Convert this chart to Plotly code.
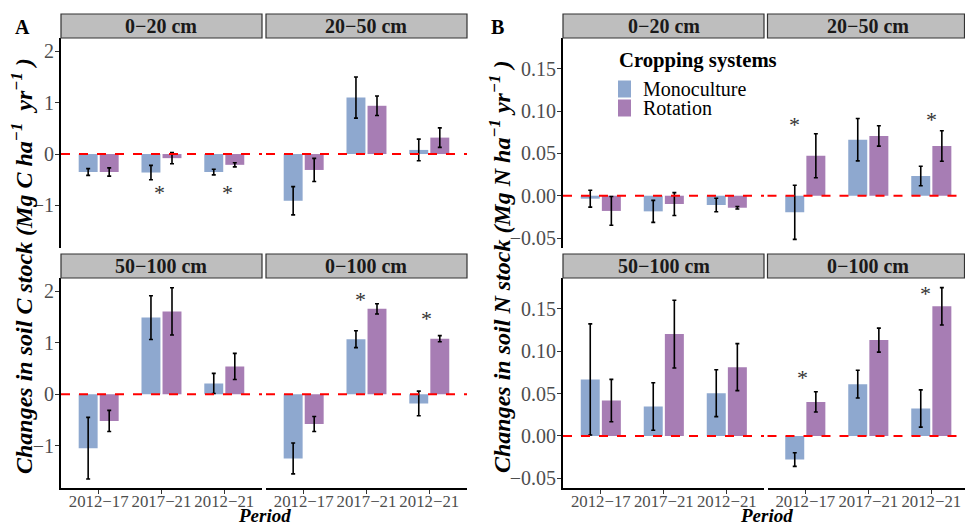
import plotly.graph_objects as go

# ---------------- data ----------------
periods = ["2012−17", "2017−21", "2012−21"]
depths = ["0−20 cm", "20−50 cm", "50−100 cm", "0−100 cm"]
systems = ["Monoculture", "Rotation"]

# Soil C stock changes (Mg C ha-1 yr-1)
c_mono = [[-0.35, -0.36, -0.35], [-0.91, 1.10, 0.08], [-1.05, 1.49, 0.21], [-1.25, 1.07, -0.18]]
c_mono_err = [[0.065, 0.14, 0.055], [0.275, 0.40, 0.21], [0.60, 0.425, 0.195], [0.30, 0.165, 0.24]]
c_rot = [[-0.35, -0.08, -0.21], [-0.31, 0.94, 0.32], [-0.52, 1.61, 0.54], [-0.58, 1.66, 1.08]]
c_rot_err = [[0.08, 0.11, 0.04], [0.225, 0.19, 0.19], [0.205, 0.46, 0.255], [0.145, 0.10, 0.06]]

# Soil N stock changes (Mg N ha-1 yr-1)
n_mono = [[-0.0035, -0.0185, -0.011], [-0.0196, 0.0662, 0.0233], [0.0667, 0.0347, 0.0505], [-0.0279, 0.0611, 0.0324]]
n_mono_err = [[0.010, 0.013, 0.008], [0.032, 0.025, 0.0116], [0.0656, 0.028, 0.0277], [0.008, 0.0164, 0.022]]
n_rot = [[-0.018, -0.0098, -0.0142], [0.0473, 0.0706, 0.0587], [0.0418, 0.1202, 0.0812], [0.0402, 0.1131, 0.153]]
n_rot_err = [[0.017, 0.0135, 0.0015], [0.026, 0.012, 0.018], [0.025, 0.040, 0.0277], [0.012, 0.0142, 0.022]]

# significance markers: (depth index, x position on category scale, y value)
c_stars_depth = [0, 0, 3, 3]
c_stars_x = [1.965, 3.054, 1.897, 2.948]
c_stars_y = [-0.66, -0.66, 1.93, 1.56]
n_stars_depth = [1, 1, 3, 3]
n_stars_x = [0.832, 3.003, 0.95, 2.912]
n_stars_y = [0.0895, 0.0962, 0.0745, 0.174]

# ---------------- style ----------------
W, H = 965, 525
FONT = "Liberation Serif"
BLUE = "#8EA8CF"
PURPLE = "#A77DB4"
TICK_COL = "#4D4D4D"

# pixel layout of panels
col_px = [(61, 262), (266, 467), (563, 764), (767.5, 965)]
row_px = [(38, 248), (278, 488.3)]
strip_px = [(14, 38), (254, 278)]
cat_unit = [62.8, 62.8, 63.0, 63.0]

fig = go.Figure()
layout = dict(
    width=W, height=H, margin=dict(l=0, r=0, t=0, b=0, autoexpand=False),
    plot_bgcolor="white", paper_bgcolor="white",
    barmode="group", bargap=0.33, bargroupgap=0.1,
    font=dict(family=FONT, size=17, color="black"),
    showlegend=False,
)
shapes = []
annotations = []

def xd(px):
    return px / W

def yd(py):
    return 1 - py / H

panels = []  # (panel, depth index, row, col)
for p in range(2):
    for d in range(4):
        panels.append((p, d, d // 2, (d % 2) + 2 * p))

for i, (p, d, r, c) in enumerate(panels):
    idx = i + 1
    xa = "x" if idx == 1 else f"x{idx}"
    ya = "y" if idx == 1 else f"y{idx}"
    mono = c_mono if p == 0 else n_mono
    mono_e = c_mono_err if p == 0 else n_mono_err
    rot = c_rot if p == 0 else n_rot
    rot_e = c_rot_err if p == 0 else n_rot_err
    xs = [1, 2, 3]
    fig.add_trace(go.Bar(
        x=xs, y=mono[d], name=systems[0], marker=dict(color=BLUE, line=dict(width=0)),
        error_y=dict(type="data", array=mono_e[d], color="black", thickness=1.6, width=2),
        xaxis=xa, yaxis=ya, offsetgroup="m",
    ))
    fig.add_trace(go.Bar(
        x=xs, y=rot[d], name=systems[1], marker=dict(color=PURPLE, line=dict(width=0)),
        error_y=dict(type="data", array=rot_e[d], color="black", thickness=1.6, width=2),
        xaxis=xa, yaxis=ya, offsetgroup="r",
    ))
    # stars
    sd, sx, sy = (c_stars_depth, c_stars_x, c_stars_y) if p == 0 else (n_stars_depth, n_stars_x, n_stars_y)
    for k in range(len(sd)):
        if sd[k] == d:
            annotations.append(dict(text="*", xref=xa, yref=ya, x=sx[k], y=sy[k],
                                    showarrow=False, xanchor="center", yanchor="middle", yshift=-5,
                                    font=dict(family=FONT, size=22, color="#333333")))

    x0, x1 = col_px[c]
    y0, y1 = row_px[r]
    xr = [0.4, 0.4 + (x1 - x0) / cat_unit[c]]
    yr = [-1.83, 2.26] if p == 0 else [-0.0618, 0.1864]
    left = (c % 2 == 0)
    bottom = (r == 1)
    layout["xaxis" if idx == 1 else f"xaxis{idx}"] = dict(
        domain=[xd(x0), xd(x1)], range=xr, anchor=ya, automargin=False,
        tickmode="array", tickvals=[1, 2, 3], ticktext=periods, tickangle=0,
        ticklabeloverflow="allow", ticklabelstandoff=-7,
        showticklabels=bottom, ticks="outside" if bottom else "",
        ticklen=4, tickwidth=1.2, tickcolor="#333333",
        tickfont=dict(family=FONT, size=16.8, color=TICK_COL),
        showline=bottom, linecolor="black", linewidth=2,
        showgrid=False, zeroline=False, fixedrange=True,
    )
    if p == 0:
        tv = [-1, 0, 1, 2]
        tt = ["−1", "0", "1", "2"]
    else:
        tv = [-0.05, 0.0, 0.05, 0.10, 0.15]
        tt = ["−0.05", "0.00", "0.05", "0.10", "0.15"]
    layout["yaxis" if idx == 1 else f"yaxis{idx}"] = dict(
        domain=[yd(y1), yd(y0)], range=yr, anchor=xa, automargin=False,
        tickmode="array", tickvals=tv, ticktext=tt, ticklabelstandoff=-3,
        showticklabels=left, ticks="outside" if left else "",
        ticklen=4, tickwidth=1.2, tickcolor="#333333",
        tickfont=dict(family=FONT, size=20, color=TICK_COL),
        showline=left, linecolor="black", linewidth=2,
        showgrid=False, zeroline=False, fixedrange=True,
    )
    # zero reference line
    shapes.append(dict(type="line", xref=f"{xa} domain", yref=ya, x0=0, x1=1, y0=0, y1=0,
                       line=dict(color="#FF0000", width=2, dash="dash"), layer="above"))
    # strip
    s0, s1 = strip_px[r]
    shapes.append(dict(type="rect", xref="paper", yref="paper",
                       x0=xd(x0), x1=xd(min(x1, W - 0.5)), y0=yd(s1), y1=yd(s0),
                       fillcolor="#BEBEBE", line=dict(color="#333333", width=1.2)))
    annotations.append(dict(text=f"<b>{depths[d]}</b>", xref="paper", yref="paper",
                            x=xd((x0 + (x0 + 3.2 * cat_unit[c])) / 2), y=yd((s0 + s1) / 2),
                            showarrow=False, font=dict(family=FONT, size=20, color="#1A1A1A"),
                            xanchor="center", yanchor="middle"))

# manual legend (inside panel B, 0-20 cm)
annotations.append(dict(text="<b>Cropping systems</b>", xref="paper", yref="paper",
                        x=xd(617), y=yd(60), xanchor="left", yanchor="middle", showarrow=False,
                        font=dict(family=FONT, size=20.7, color="black")))
for k, (name, col) in enumerate(zip(systems, [BLUE, PURPLE])):
    cy = 89 + 19 * k
    shapes.append(dict(type="rect", xref="paper", yref="paper",
                       x0=xd(618), x1=xd(631), y0=yd(cy + 8.5), y1=yd(cy - 8.5),
                       fillcolor=col, line=dict(width=0)))
    annotations.append(dict(text=name, xref="paper", yref="paper", x=xd(641), y=yd(cy),
                            xanchor="left", yanchor="middle", showarrow=False,
                            font=dict(family=FONT, size=20, color="black")))

# axis titles and panel letters
annotations += [
    dict(text="<b><i>Changes in soil C stock (Mg C ha<sup>−1</sup>  yr<sup>−1</sup> )</i></b>",
         xref="paper", yref="paper", x=xd(22), y=yd(266), textangle=-90, showarrow=False,
         font=dict(family=FONT, size=24, color="black"), xanchor="center", yanchor="middle"),
    dict(text="<b><i>Changes in soil N stock (Mg N ha<sup>−1</sup> yr<sup>−1</sup> )</i></b>",
         xref="paper", yref="paper", x=xd(500), y=yd(266), textangle=-90, showarrow=False,
         font=dict(family=FONT, size=24, color="black"), xanchor="center", yanchor="middle"),
    dict(text="<b><i>Period</i></b>", xref="paper", yref="paper", x=xd(264), y=yd(515),
         showarrow=False, font=dict(family=FONT, size=19, color="black"),
         xanchor="center", yanchor="middle"),
    dict(text="<b><i>Period</i></b>", xref="paper", yref="paper", x=xd(766), y=yd(515),
         showarrow=False, font=dict(family=FONT, size=19, color="black"),
         xanchor="center", yanchor="middle"),
    dict(text="<b>A</b>", xref="paper", yref="paper", x=xd(22), y=yd(27), showarrow=False,
         font=dict(family=FONT, size=20, color="black"), xanchor="center", yanchor="middle"),
    dict(text="<b>B</b>", xref="paper", yref="paper", x=xd(498), y=yd(27), showarrow=False,
         font=dict(family=FONT, size=20, color="black"), xanchor="center", yanchor="middle"),
]

layout["shapes"] = shapes
layout["annotations"] = annotations
fig.update_layout(**layout)
fig.write_html("out.html")
